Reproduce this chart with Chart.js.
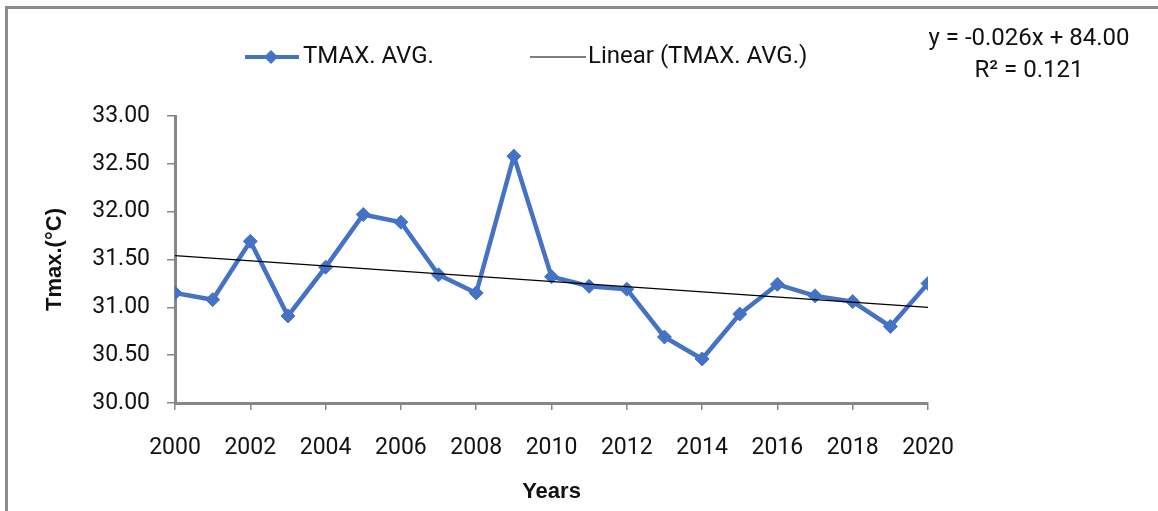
<!DOCTYPE html>
<html>
<head>
<meta charset="utf-8">
<script src="https://cdn.jsdelivr.net/npm/chart.js@4/dist/chart.umd.min.js"></script>
<style>
  html, body { margin: 0; padding: 0; background: #fff; }
  #wrap { position: relative; width: 1158px; height: 511px; overflow: hidden; }
  #frame { position: absolute; left: 5px; top: 6px; right: -10px; bottom: -10px;
           border-left: 3px solid #8c8c8c; border-top: 3px solid #8c8c8c; pointer-events: none; }
</style>
</head>
<body>
<div id="wrap">
  <canvas id="c" width="1158" height="511"></canvas>
  <div id="frame"></div>
</div>
<script>
// Tmax yearly average 2000-2020 with linear trend
const years = [2000, 2001, 2002, 2003, 2004, 2005, 2006, 2007, 2008, 2009, 2010,
               2011, 2012, 2013, 2014, 2015, 2016, 2017, 2018, 2019, 2020];
const tmaxAvg = [31.15, 31.08, 31.69, 30.91, 31.42, 31.97, 31.89, 31.34, 31.15, 32.58, 31.32,
                 31.22, 31.19, 30.69, 30.46, 30.93, 31.24, 31.12, 31.06, 30.80, 31.25];
const trendYears = [2000, 2020];
const trendValues = [31.54, 31.00];
const yTicks = [30.00, 30.50, 31.00, 31.50, 32.00, 32.50, 33.00];
const equationLines = ['y = -0.026x + 84.00', 'R\u00B2 = 0.121'];

const FONT = 'Roboto, "Liberation Sans", Arial, sans-serif';
const BOLD_FONT = '"Liberation Sans", Arial, sans-serif';
const BLUE = '#4472C4';
const AXIS = '#878787';

// legend + equation drawn on the canvas
const headerPlugin = {
    id: 'header',
    afterDraw(chart) {
        const ctx = chart.ctx;
        ctx.save();
        ctx.font = '24px ' + FONT;
        ctx.fillStyle = '#111';
        ctx.textBaseline = 'middle';
        const ly = 57;
        // series entry
        ctx.strokeStyle = BLUE; ctx.lineWidth = 4;
        ctx.beginPath(); ctx.moveTo(245, ly); ctx.lineTo(299, ly); ctx.stroke();
        ctx.fillStyle = BLUE;
        ctx.beginPath();
        ctx.moveTo(271, ly - 7); ctx.lineTo(278, ly); ctx.lineTo(271, ly + 7); ctx.lineTo(264, ly);
        ctx.closePath(); ctx.fill();
        ctx.fillStyle = '#111';
        ctx.textAlign = 'left';
        ctx.fillText(chart.data.datasets[0].label, 303, ly);
        // trend entry
        ctx.strokeStyle = '#000'; ctx.lineWidth = 1;
        ctx.beginPath(); ctx.moveTo(530, ly); ctx.lineTo(586, ly); ctx.stroke();
        ctx.fillText(chart.data.datasets[1].label, 588, ly);
        // equation
        ctx.textAlign = 'center';
        ctx.fillText(equationLines[0], 1029, 39);
        ctx.fillText(equationLines[1], 1029, 71);
        ctx.restore();
    }
};

new Chart(document.getElementById('c'), {
    type: 'line',
    data: {
        datasets: [
            {
                label: 'TMAX. AVG.',
                data: years.map((y, i) => ({ x: y, y: tmaxAvg[i] })),
                borderColor: BLUE,
                backgroundColor: BLUE,
                borderWidth: 4.5,
                pointStyle: 'rectRot',
                pointRadius: 7,
                pointBorderWidth: 1,
                tension: 0,
                order: 2
            },
            {
                label: 'Linear (TMAX. AVG.)',
                data: trendYears.map((y, i) => ({ x: y, y: trendValues[i] })),
                borderColor: '#000',
                borderWidth: 1.2,
                pointRadius: 0,
                order: 1
            }
        ]
    },
    options: {
        responsive: false,
        animation: false,
        layout: { padding: { top: 116, right: 230, left: 0, bottom: 0 } },
        plugins: { legend: { display: false }, tooltip: { enabled: false } },
        scales: {
            x: {
                type: 'linear',
                min: 2000, max: 2020,
                afterFit: s => { s.height = 108; },
                afterBuildTicks: s => { s.ticks = years.filter(y => y % 2 === 0).map(v => ({ value: v })); },
                grid: { drawOnChartArea: false, tickLength: 7, color: AXIS, lineWidth: 1.5 },
                border: { color: AXIS, width: 3 },
                ticks: { color: '#111', font: { family: FONT, size: 23 }, padding: 24,
                         maxRotation: 0, autoSkip: false, callback: v => String(v) },
                title: { display: true, text: 'Years', color: '#111',
                         font: { family: BOLD_FONT, size: 22, weight: 'bold' },
                         padding: { top: 0, bottom: 6 } }
            },
            y: {
                min: 30, max: 33,
                afterFit: s => { s.width = 175; },
                afterBuildTicks: s => { s.ticks = yTicks.map(v => ({ value: v })); },
                grid: { drawOnChartArea: false, tickLength: 8, color: AXIS, lineWidth: 1.5 },
                border: { color: AXIS, width: 3 },
                ticks: { color: '#111', font: { family: FONT, size: 23 }, padding: 17,
                         callback: v => Number(v).toFixed(2) },
                title: { display: true, text: 'Tmax.(\u00B0C)', color: '#111',
                         font: { family: BOLD_FONT, size: 22, weight: 'bold' },
                         padding: { top: 42, bottom: 0 } }
            }
        }
    },
    plugins: [headerPlugin]
});
</script>
</body>
</html>
